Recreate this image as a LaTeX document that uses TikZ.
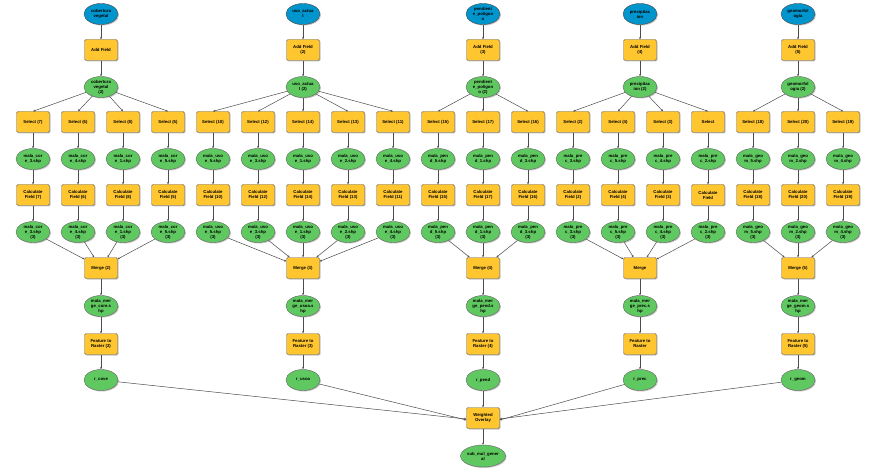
\documentclass[tikz,border=0pt]{standalone}
\usepackage{fontspec}
\setmainfont{Liberation Sans}
\usetikzlibrary{shapes.geometric,arrows.meta,shadows}
\definecolor{inblue}{RGB}{0,150,205}
\definecolor{outgreen}{RGB}{96,200,96}
\definecolor{toolyel}{RGB}{255,198,48}
\tikzset{
  base/.style={font=\fontsize{4.3}{5}\selectfont\bfseries, align=center, inner sep=0pt,
    drop shadow={shadow xshift=1pt, shadow yshift=-1pt, fill=black!45}},
  inp/.style={base, ellipse, draw=black!70, fill=inblue, minimum width=34pt, minimum height=21pt},
  outp/.style={base, ellipse, draw=black!60, fill=outgreen, minimum width=34pt, minimum height=21pt},
  tool/.style={base, rectangle, rounded corners=1.5pt, draw=black!60, fill=toolyel, minimum width=33pt, minimum height=21pt},
  conn/.style={draw=black!70, line width=0.5pt, -{Stealth[length=2.2pt,width=2pt]}}
}
\begin{document}
\begin{tikzpicture}[x=1pt,y=-1pt]
\useasboundingbox (0,0) rectangle (886,473);
\fill[white] (0,0) rectangle (886,473);
% ---------- column 1 ----------
\node[inp]  (c1in)  at (101,14)  {cobertura\\vegetal};
\node[tool] (c1af)  at (101,50)  {Add Field};
\node[outp] (c1g2)  at (101,87)  {cobertura\\vegetal\\(2)};
\node[tool] (c1s1)  at (33,122)  {Select (7)};
\node[tool] (c1s2)  at (78,122)  {Select (6)};
\node[tool] (c1s3)  at (123,122) {Select (8)};
\node[tool] (c1s4)  at (168,122) {Select (5)};
\node[outp] (c1m1)  at (33,159)  {mala\_cor\\e\_3.shp};
\node[outp] (c1m2)  at (78,159)  {mala\_cor\\e\_4.shp};
\node[outp] (c1m3)  at (123,159) {mala\_cor\\e\_1.shp};
\node[outp] (c1m4)  at (168,159) {mala\_cor\\e\_5.shp};
\node[tool] (c1c1)  at (33,195)  {Calculate\\Field (7)};
\node[tool] (c1c2)  at (78,195)  {Calculate\\Field (6)};
\node[tool] (c1c3)  at (123,195) {Calculate\\Field (8)};
\node[tool] (c1c4)  at (168,195) {Calculate\\Field (5)};
\node[outp] (c1o1)  at (33,232)  {mala\_cor\\e\_3.shp\\(3)};
\node[outp] (c1o2)  at (78,232)  {mala\_cor\\e\_4.shp\\(3)};
\node[outp] (c1o3)  at (123,232) {mala\_cor\\e\_1.shp\\(3)};
\node[outp] (c1o4)  at (168,232) {mala\_cor\\e\_5.shp\\(3)};
\node[tool] (c1mg)  at (101,268) {Merge (2)};
\node[outp] (c1mo)  at (101,306) {mala\_mer\\ge\_core.s\\hp};
\node[tool] (c1fr)  at (101,344) {Feature to\\Raster (2)};
\node[outp] (c1r)   at (101,380) {r\_cove};
% ---------- column 2 ----------
\node[inp]  (c2in)  at (303,14)  {uso\_actua\\l};
\node[tool] (c2af)  at (303,50)  {Add Field\\(2)};
\node[outp] (c2g2)  at (303,87)  {uso\_actua\\l (2)};
\node[tool] (c2s1)  at (213,122) {Select (10)};
\node[tool] (c2s2)  at (258,122) {Select (12)};
\node[tool] (c2s3)  at (303,122) {Select (14)};
\node[tool] (c2s4)  at (348,122) {Select (13)};
\node[tool] (c2s5)  at (393,122) {Select (11)};
\node[outp] (c2m1)  at (213,159) {mala\_uso\\e\_5.shp};
\node[outp] (c2m2)  at (258,159) {mala\_uso\\e\_3.shp};
\node[outp] (c2m3)  at (303,159) {mala\_uso\\e\_1.shp};
\node[outp] (c2m4)  at (348,159) {mala\_uso\\e\_2.shp};
\node[outp] (c2m5)  at (393,159) {mala\_uso\\e\_4.shp};
\node[tool] (c2c1)  at (213,195) {Calculate\\Field (10)};
\node[tool] (c2c2)  at (258,195) {Calculate\\Field (12)};
\node[tool] (c2c3)  at (303,195) {Calculate\\Field (14)};
\node[tool] (c2c4)  at (348,195) {Calculate\\Field (13)};
\node[tool] (c2c5)  at (393,195) {Calculate\\Field (11)};
\node[outp] (c2o1)  at (213,232) {mala\_uso\\e\_5.shp\\(3)};
\node[outp] (c2o2)  at (258,232) {mala\_uso\\e\_3.shp\\(3)};
\node[outp] (c2o3)  at (303,232) {mala\_uso\\e\_1.shp\\(3)};
\node[outp] (c2o4)  at (348,232) {mala\_uso\\e\_2.shp\\(3)};
\node[outp] (c2o5)  at (393,232) {mala\_uso\\e\_4.shp\\(3)};
\node[tool] (c2mg)  at (303,268) {Merge (3)};
\node[outp] (c2mo)  at (303,306) {mala\_mer\\ge\_usoa.s\\hp};
\node[tool] (c2fr)  at (303,344) {Feature to\\Raster (3)};
\node[outp] (c2r)   at (303,380) {r\_usoa};
% ---------- column 3 ----------
\node[inp]  (c3in)  at (483,14)  {pendient\\e\_poligon\\o};
\node[tool] (c3af)  at (483,50)  {Add Field\\(3)};
\node[outp] (c3g2)  at (483,87)  {pendient\\e\_poligon\\o (2)};
\node[tool] (c3s1)  at (438,122) {Select (15)};
\node[tool] (c3s2)  at (483,122) {Select (17)};
\node[tool] (c3s3)  at (528,122) {Select (16)};
\node[outp] (c3m1)  at (438,159) {mala\_pen\\d\_5.shp};
\node[outp] (c3m2)  at (483,159) {mala\_pen\\d\_1.shp};
\node[outp] (c3m3)  at (528,159) {mala\_pen\\d\_3.shp};
\node[tool] (c3c1)  at (438,195) {Calculate\\Field (15)};
\node[tool] (c3c2)  at (483,195) {Calculate\\Field (17)};
\node[tool] (c3c3)  at (528,195) {Calculate\\Field (16)};
\node[outp] (c3o1)  at (438,232) {mala\_pen\\d\_5.shp\\(3)};
\node[outp] (c3o2)  at (483,232) {mala\_pen\\d\_1.shp\\(3)};
\node[outp] (c3o3)  at (528,232) {mala\_pen\\d\_3.shp\\(3)};
\node[tool] (c3mg)  at (483,268) {Merge (4)};
\node[outp] (c3mo)  at (483,306) {mala\_mer\\ge\_pend.s\\hp};
\node[tool] (c3fr)  at (483,344) {Feature to\\Raster (4)};
\node[outp] (c3r)   at (483,380) {r\_pend};
\node[tool] (wo)    at (483,418) {Weighted\\Overlay};
\node[outp, minimum width=43pt, minimum height=22pt] (sub) at (483,456) {sub\_mul\_gener\\al};
% ---------- column 4 ----------
\node[inp]  (c4in)  at (640,14)  {precipitac\\ion};
\node[tool] (c4af)  at (640,50)  {Add Field\\(4)};
\node[outp] (c4g2)  at (640,87)  {precipitac\\ion (2)};
\node[tool] (c4s1)  at (573,122) {Select (2)};
\node[tool] (c4s2)  at (618,122) {Select (4)};
\node[tool] (c4s3)  at (663,122) {Select (3)};
\node[tool] (c4s4)  at (708,122) {Select};
\node[outp] (c4m1)  at (573,159) {mala\_pre\\c\_3.shp};
\node[outp] (c4m2)  at (618,159) {mala\_pre\\c\_5.shp};
\node[outp] (c4m3)  at (663,159) {mala\_pre\\c\_4.shp};
\node[outp] (c4m4)  at (708,159) {mala\_pre\\c\_2.shp};
\node[tool] (c4c1)  at (573,195) {Calculate\\Field (2)};
\node[tool] (c4c2)  at (618,195) {Calculate\\Field (4)};
\node[tool] (c4c3)  at (663,195) {Calculate\\Field (3)};
\node[tool] (c4c4)  at (708,195) {Calculate\\Field};
\node[outp] (c4o1)  at (573,232) {mala\_pre\\c\_3.shp\\(3)};
\node[outp] (c4o2)  at (618,232) {mala\_pre\\c\_5.shp\\(3)};
\node[outp] (c4o3)  at (663,232) {mala\_pre\\c\_4.shp\\(3)};
\node[outp] (c4o4)  at (708,232) {mala\_pre\\c\_2.shp\\(3)};
\node[tool] (c4mg)  at (640,268) {Merge};
\node[outp] (c4mo)  at (640,306) {mala\_mer\\ge\_prec.s\\hp};
\node[tool] (c4fr)  at (640,344) {Feature to\\Raster};
\node[outp] (c4r)   at (640,380) {r\_prec};
% ---------- column 5 ----------
\node[inp]  (c5in)  at (798,14)  {geomorfol\\ogia};
\node[tool] (c5af)  at (798,50)  {Add Field\\(5)};
\node[outp] (c5g2)  at (798,87)  {geomorfol\\ogia (2)};
\node[tool] (c5s1)  at (753,122) {Select (18)};
\node[tool] (c5s2)  at (798,122) {Select (20)};
\node[tool] (c5s3)  at (843,122) {Select (19)};
\node[outp] (c5m1)  at (753,159) {mala\_geo\\m\_5.shp};
\node[outp] (c5m2)  at (798,159) {mala\_geo\\m\_2.shp};
\node[outp] (c5m3)  at (843,159) {mala\_geo\\m\_4.shp};
\node[tool] (c5c1)  at (753,195) {Calculate\\Field (18)};
\node[tool] (c5c2)  at (798,195) {Calculate\\Field (20)};
\node[tool] (c5c3)  at (843,195) {Calculate\\Field (19)};
\node[outp] (c5o1)  at (753,232) {mala\_geo\\m\_5.shp\\(3)};
\node[outp] (c5o2)  at (798,232) {mala\_geo\\m\_2.shp\\(3)};
\node[outp] (c5o3)  at (843,232) {mala\_geo\\m\_4.shp\\(3)};
\node[tool] (c5mg)  at (798,268) {Merge (5)};
\node[outp] (c5mo)  at (798,306) {mala\_mer\\ge\_geom.s\\hp};
\node[tool] (c5fr)  at (798,344) {Feature to\\Raster (5)};
\node[outp] (c5r)   at (798,380) {r\_geom};
% ---------- connectors ----------
\foreach \c/\n in {1/4,2/5,3/3,4/4,5/3}{
  \draw[conn] (c\c in) -- (c\c af);
  \draw[conn] (c\c af) -- (c\c g2);
  \foreach \i in {1,...,\n}{
    \draw[conn] (c\c g2) -- (c\c s\i.north);
    \draw[conn] (c\c s\i) -- (c\c m\i);
    \draw[conn] (c\c m\i) -- (c\c c\i);
    \draw[conn] (c\c c\i) -- (c\c o\i);
    \draw[conn] (c\c o\i) -- (c\c mg);
  }
  \draw[conn] (c\c mg) -- (c\c mo);
  \draw[conn] (c\c mo) -- (c\c fr);
  \draw[conn] (c\c fr) -- (c\c r);
}
\draw[conn] (c1r) -- ([yshift=-1pt]wo.west);
\draw[conn] (c2r) -- ([yshift=-2pt]wo.west);
\draw[conn] (c3r) -- (wo);
\draw[conn] (c4r) -- ([yshift=-2pt]wo.east);
\draw[conn] (c5r) -- ([yshift=-1pt]wo.east);
\draw[conn] (wo) -- (sub);
\end{tikzpicture}
\end{document}
